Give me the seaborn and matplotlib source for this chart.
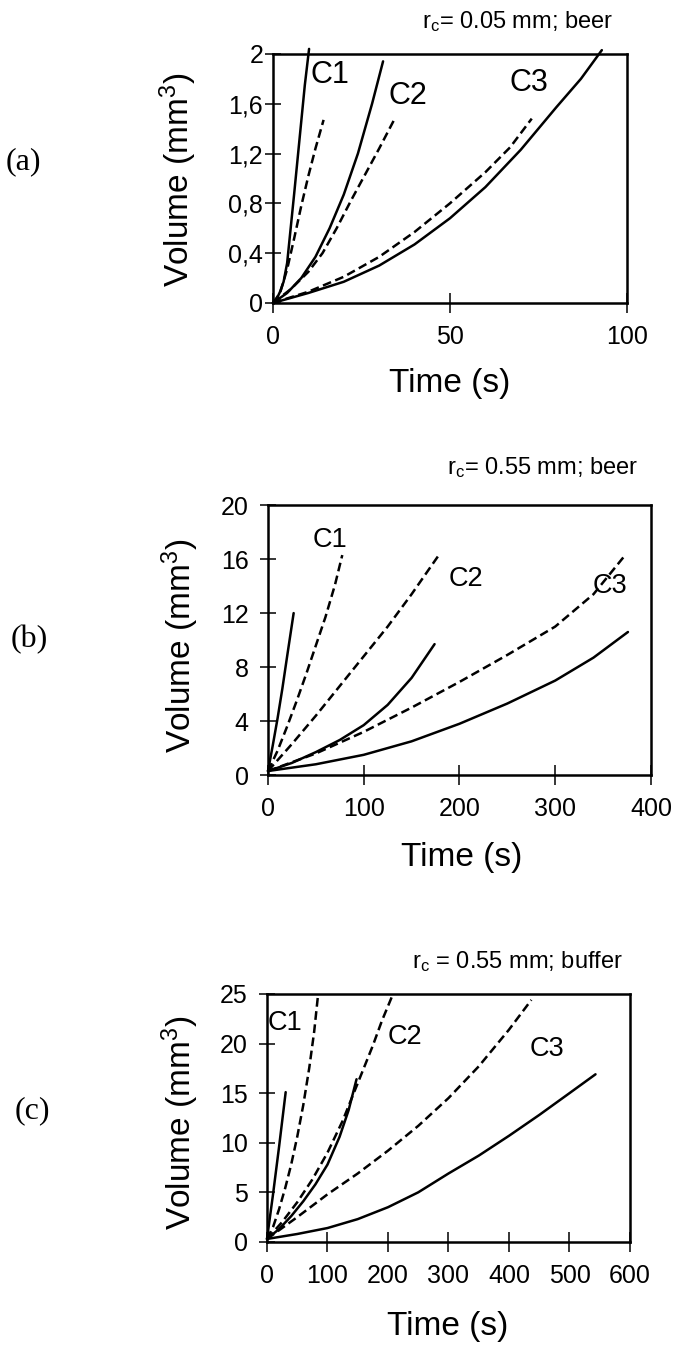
import matplotlib
matplotlib.use('Agg')
import matplotlib.pyplot as plt
import pandas as pd
import seaborn as sns

# ---- panel (a): r_c = 0.05 mm; beer ----
A_C1_SOLID_T = [0, 1, 2, 3, 4, 5, 6, 7, 8, 9, 10.2]
A_C1_SOLID_V = [0, 0.03, 0.09, 0.17, 0.32, 0.6, 0.88, 1.17, 1.46, 1.75, 2.04]
A_C1_DASH_T = [0, 2, 4, 6, 8, 10, 12, 13.3, 14.3]
A_C1_DASH_V = [0, 0.08, 0.27, 0.52, 0.78, 1.02, 1.24, 1.37, 1.47]
A_C2_SOLID_T = [0, 4, 8, 12, 16, 20, 24, 28, 31.1]
A_C2_SOLID_V = [0, 0.08, 0.2, 0.37, 0.6, 0.87, 1.2, 1.6, 1.94]
A_C2_DASH_T = [0, 5, 10, 14, 18, 22, 26, 30, 34.4]
A_C2_DASH_V = [0, 0.11, 0.25, 0.4, 0.6, 0.82, 1.03, 1.24, 1.48]
A_C3_SOLID_T = [0, 10, 20, 30, 40, 50, 60, 70, 80, 87, 92.9]
A_C3_SOLID_V = [0, 0.08, 0.17, 0.3, 0.47, 0.68, 0.93, 1.23, 1.57, 1.8, 2.03]
A_C3_DASH_T = [0, 10, 20, 30, 40, 50, 60, 67, 73.1]
A_C3_DASH_V = [0, 0.09, 0.21, 0.37, 0.57, 0.8, 1.05, 1.25, 1.48]

# ---- panel (b): r_c = 0.55 mm; beer ----
B_C1_SOLID_T = [0, 5, 10, 15, 20, 26.8]
B_C1_SOLID_V = [0.3, 2.2, 4.2, 6.4, 8.8, 12.0]
B_C1_DASH_T = [0, 10, 20, 30, 40, 50, 60, 70, 77.6]
B_C1_DASH_V = [0.3, 1.8, 3.6, 5.5, 7.5, 9.6, 11.7, 14.1, 16.3]
B_C2_SOLID_T = [0, 25, 50, 75, 100, 125, 150, 174]
B_C2_SOLID_V = [0.3, 0.9, 1.7, 2.6, 3.7, 5.2, 7.2, 9.7]
B_C2_DASH_T = [0, 25, 50, 75, 100, 125, 150, 177.5]
B_C2_DASH_V = [0.3, 2.3, 4.4, 6.6, 8.8, 11.0, 13.4, 16.2]
B_C3_SOLID_T = [0, 50, 100, 150, 200, 250, 300, 340, 376]
B_C3_SOLID_V = [0.3, 0.8, 1.5, 2.5, 3.8, 5.3, 7.0, 8.7, 10.6]
B_C3_DASH_T = [0, 50, 100, 150, 200, 250, 300, 340, 372]
B_C3_DASH_V = [0.3, 1.6, 3.2, 5.0, 6.9, 8.9, 11.0, 13.4, 16.2]

# ---- panel (c): r_c = 0.55 mm; buffer ----
C_C1_SOLID_T = [0, 10, 20, 30.9]
C_C1_SOLID_V = [0.3, 4.8, 9.6, 15.1]
C_C1_DASH_T = [0, 10, 20, 30, 40, 50, 60, 70, 78, 84.4]
C_C1_DASH_V = [0.3, 1.5, 3.3, 5.4, 7.8, 10.6, 13.8, 17.6, 21.2, 24.9]
C_C2_SOLID_T = [0, 20, 40, 60, 80, 100, 120, 135, 148]
C_C2_SOLID_V = [0.3, 1.3, 2.6, 4.1, 5.8, 7.8, 10.6, 13.3, 16.4]
C_C2_DASH_T = [0, 25, 50, 75, 100, 125, 150, 175, 190, 207]
C_C2_DASH_V = [0.3, 2.0, 4.0, 6.3, 9.0, 12.2, 16.0, 19.8, 22.3, 24.8]
C_C3_SOLID_T = [0, 50, 100, 150, 200, 250, 300, 350, 400, 450, 500, 543]
C_C3_SOLID_V = [0.3, 0.8, 1.4, 2.3, 3.5, 5.0, 6.9, 8.7, 10.7, 12.8, 15.0, 16.9]
C_C3_DASH_T = [0, 50, 100, 150, 200, 250, 300, 350, 400, 437]
C_C3_DASH_V = [0.3, 2.5, 4.8, 6.9, 9.2, 11.7, 14.5, 17.7, 21.4, 24.4]

TITLES = ['r$\\mathregular{_c}$= 0.05 mm; beer',
          'r$\\mathregular{_c}$= 0.55 mm; beer',
          'r$\\mathregular{_c}$ = 0.55 mm; buffer']
PANEL_TAGS = ['(a)', '(b)', '(c)']
CURVE_NAMES = ['C1', 'C2', 'C3']
A_LABEL_POS = [(16.0, 1.83), (38.2, 1.66), (72.2, 1.77)]
B_LABEL_POS = [(64.4, 17.4), (207, 14.5), (356.8, 14.0)]
C_LABEL_POS = [(29.2, 22.1), (227.8, 20.7), (462, 19.5)]
A_XTICKS = [0, 50, 100]
A_YTICKS = [0, 0.4, 0.8, 1.2, 1.6, 2]
A_YTICKLABELS = ['0', '0,4', '0,8', '1,2', '1,6', '2']
B_XTICKS = [0, 100, 200, 300, 400]
B_YTICKS = [0, 4, 8, 12, 16, 20]
C_XTICKS = [0, 100, 200, 300, 400, 500, 600]
C_YTICKS = [0, 5, 10, 15, 20, 25]


def curve_frame(curves):
    rows = []
    for name, kind, ts, vs in curves:
        for t, v in zip(ts, vs):
            rows.append({'curve': name, 'kind': kind, 'time': t, 'volume': v})
    return pd.DataFrame(rows)


panels = [
    curve_frame([('C1', 'solid', A_C1_SOLID_T, A_C1_SOLID_V), ('C1', 'dash', A_C1_DASH_T, A_C1_DASH_V),
                 ('C2', 'solid', A_C2_SOLID_T, A_C2_SOLID_V), ('C2', 'dash', A_C2_DASH_T, A_C2_DASH_V),
                 ('C3', 'solid', A_C3_SOLID_T, A_C3_SOLID_V), ('C3', 'dash', A_C3_DASH_T, A_C3_DASH_V)]),
    curve_frame([('C1', 'solid', B_C1_SOLID_T, B_C1_SOLID_V), ('C1', 'dash', B_C1_DASH_T, B_C1_DASH_V),
                 ('C2', 'solid', B_C2_SOLID_T, B_C2_SOLID_V), ('C2', 'dash', B_C2_DASH_T, B_C2_DASH_V),
                 ('C3', 'solid', B_C3_SOLID_T, B_C3_SOLID_V), ('C3', 'dash', B_C3_DASH_T, B_C3_DASH_V)]),
    curve_frame([('C1', 'solid', C_C1_SOLID_T, C_C1_SOLID_V), ('C1', 'dash', C_C1_DASH_T, C_C1_DASH_V),
                 ('C2', 'solid', C_C2_SOLID_T, C_C2_SOLID_V), ('C2', 'dash', C_C2_DASH_T, C_C2_DASH_V),
                 ('C3', 'solid', C_C3_SOLID_T, C_C3_SOLID_V), ('C3', 'dash', C_C3_DASH_T, C_C3_DASH_V)]),
]

sns.set_style('white')
plt.rcParams['font.family'] = ['Liberation Sans', 'DejaVu Sans']
plt.rcParams['mathtext.fontset'] = 'custom'
plt.rcParams['mathtext.rm'] = 'Liberation Sans'
plt.rcParams['text.color'] = 'black'
plt.rcParams['axes.labelcolor'] = 'black'

fig = plt.figure(figsize=(6.73, 13.47), dpi=100)

# axes rectangles (figure fractions) and per-panel layout tweaks
layout = [
    dict(rect=[0.4056, 0.7751, 0.526, 0.1849], xlim=(0, 100), ylim=(0, 2),
         xticks=A_XTICKS, yticks=A_YTICKS, yticklabels=A_YTICKLABELS, labels=A_LABEL_POS,
         clabel_size=22, ypad=1, ylab=(-0.268, 0.494), xlab=(0.5, -0.325),
         title_xy=(0.911, 0.9837), tag_xy=(0.034, 0.8797)),
    dict(rect=[0.3982, 0.4246, 0.569, 0.2004], xlim=(0, 400), ylim=(0, 20),
         xticks=B_XTICKS, yticks=B_YTICKS, yticklabels=None, labels=B_LABEL_POS,
         clabel_size=19.5, ypad=8, ylab=(-0.23, 0.478), xlab=(0.507, -0.307),
         title_xy=(0.948, 0.6526), tag_xy=(0.043, 0.5249)),
    dict(rect=[0.3967, 0.0780, 0.5394, 0.1841], xlim=(0, 600), ylim=(0, 25),
         xticks=C_XTICKS, yticks=C_YTICKS, yticklabels=None, labels=C_LABEL_POS,
         clabel_size=19.5, ypad=8, ylab=(-0.24, 0.48), xlab=(0.499, -0.343),
         title_xy=(0.9257, 0.2858), tag_xy=(0.0475, 0.1752)),
]

for i, (df, lay) in enumerate(zip(panels, layout)):
    ax = fig.add_axes(lay['rect'])
    for (name, kind), sub in df.groupby(['curve', 'kind'], sort=False):
        ls = '-' if kind == 'solid' else (0, (3.5, 1.8))
        sns.lineplot(data=sub, x='time', y='volume', ax=ax, color='black',
                     sort=False, estimator=None, linewidth=1.8, linestyle=ls)
    for ln in ax.lines:
        ln.set_clip_on(False)

    ax.set_xlim(*lay['xlim'])
    ax.set_ylim(*lay['ylim'])
    ax.set_xticks(lay['xticks'])
    ax.set_yticks(lay['yticks'])
    if lay['yticklabels'] is not None:
        ax.set_yticklabels(lay['yticklabels'])
    ax.tick_params(axis='x', bottom=True, direction='inout', length=14, width=1.1, pad=9,
                   labelsize=18, colors='black')
    ax.tick_params(axis='y', left=True, direction='inout', length=12, width=1.1, pad=lay['ypad'],
                   labelsize=18, colors='black')
    for sp in ax.spines.values():
        sp.set_visible(True)
        sp.set_color('black')
        sp.set_linewidth(1.8)

    ax.set_xlabel('Time (s)', fontsize=24)
    ax.set_ylabel('Volume (mm$\\mathregular{^3}$)', fontsize=24)
    ax.xaxis.set_label_coords(*lay['xlab'])
    ax.yaxis.set_label_coords(*lay['ylab'])
    ax.xaxis.label.set_va('center')
    ax.yaxis.label.set_va('center')

    for name, (x, y) in zip(CURVE_NAMES, lay['labels']):
        ax.text(x, y, name, ha='center', va='center', fontsize=lay['clabel_size'])

    fig.text(*lay['title_xy'], TITLES[i], ha='right', va='center', fontsize=17)
    fig.text(*lay['tag_xy'], PANEL_TAGS[i], ha='center', va='center', fontsize=23,
             family=['Liberation Serif', 'DejaVu Serif'])

fig.savefig('out.png', dpi=100)
